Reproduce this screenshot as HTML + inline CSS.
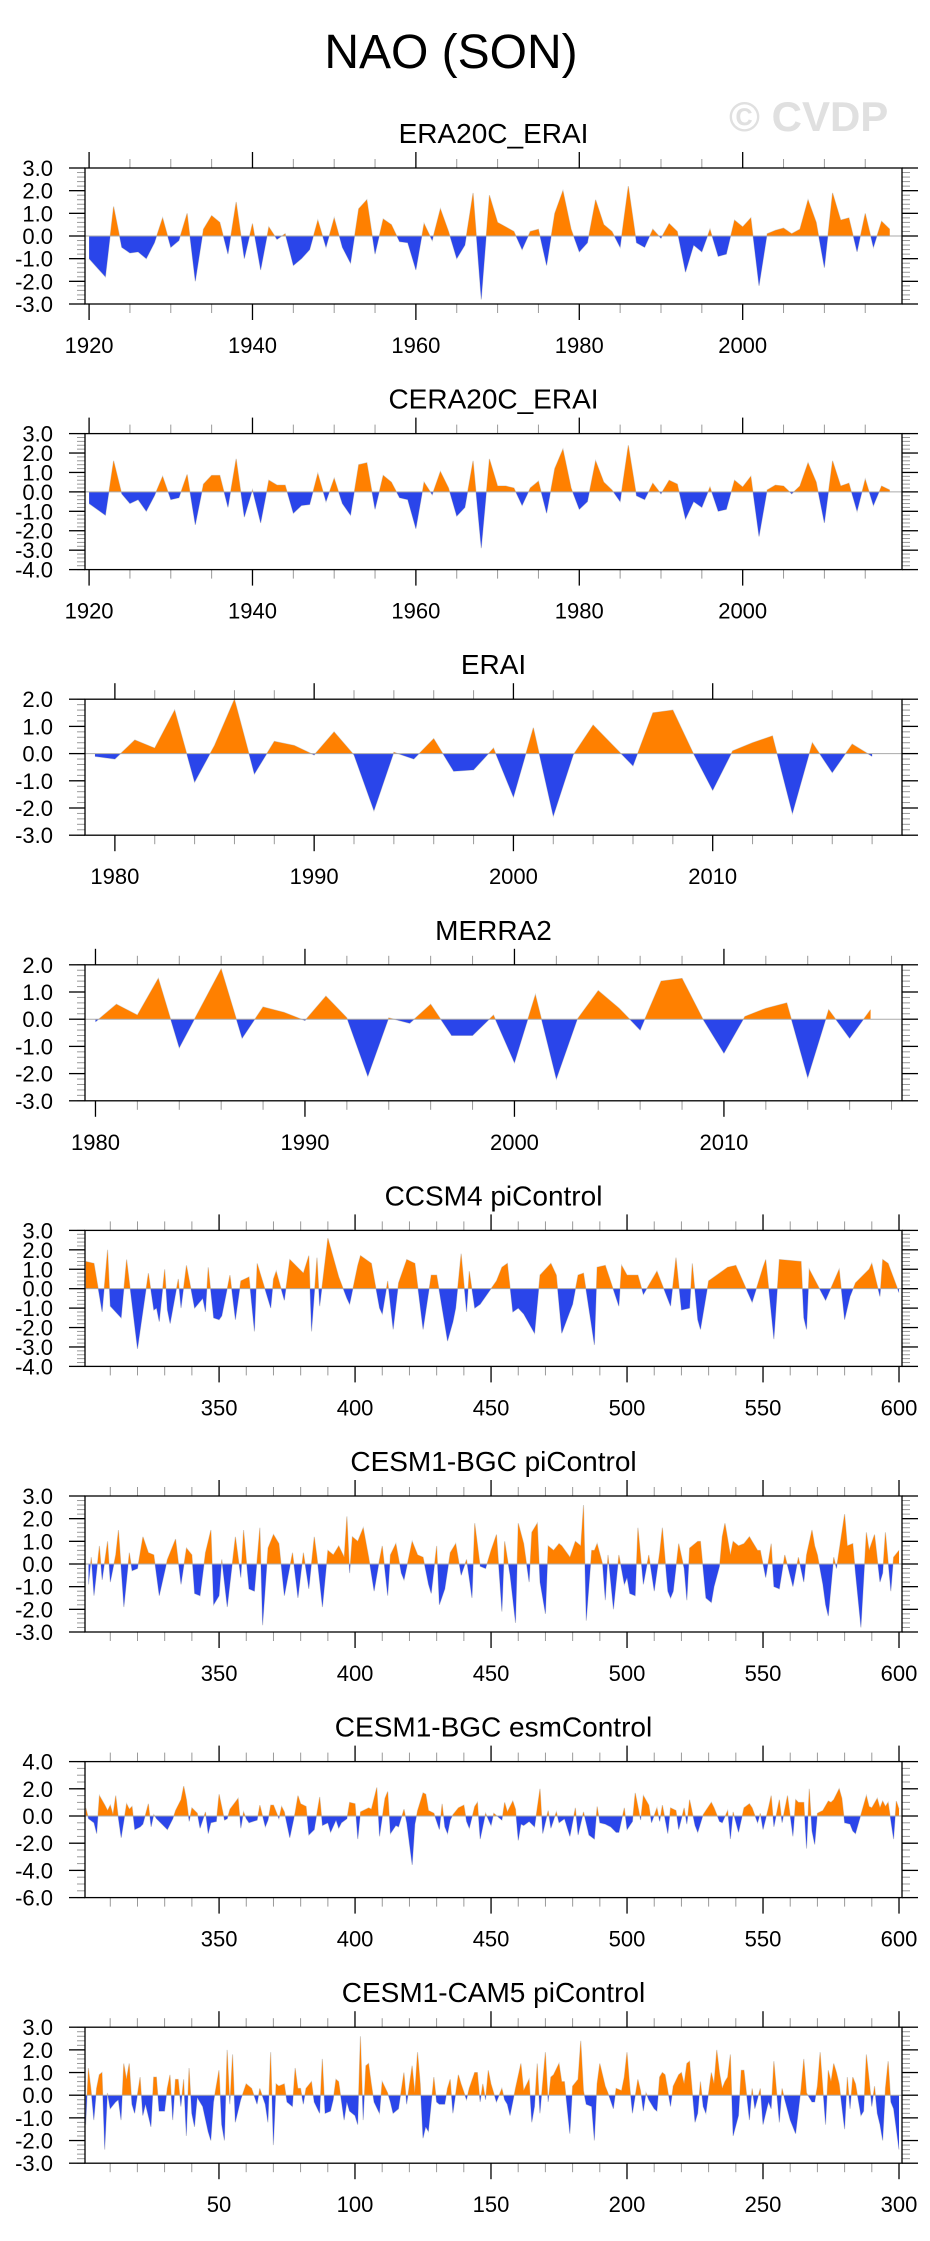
<!DOCTYPE html>
<html><head><meta charset="utf-8"><title>NAO (SON)</title>
<style>
html,body{margin:0;padding:0;background:#fff;}
svg{display:block;font-family:"Liberation Sans",Arial,sans-serif;}
</style></head>
<body>
<svg id="chart" width="930" height="2241" viewBox="0 0 930 2241" xmlns="http://www.w3.org/2000/svg">
<rect x="0" y="0" width="930" height="2241" fill="#fff"/>
<text x="451" y="68" font-size="48" text-anchor="middle" fill="#000">NAO (SON)</text>
<text x="729" y="131" font-size="42" font-weight="bold" fill="#e0e0e0">© CVDP</text>
</svg>
<script>
// ---------- data ----------
const era20cStart = 1920;
const era20cValues = [-1.0,-1.4,-1.8,1.3,-0.5,-0.75,-0.7,-1.0,-0.3,0.8,
 -0.5,-0.2,1.0,-2.0,0.3,0.9,0.6,-0.8,1.5,-1.0,
 0.55,-1.5,0.4,-0.15,0.1,-1.3,-1.0,-0.6,0.7,-0.5,
 0.8,-0.5,-1.2,1.2,1.6,-0.8,0.75,0.5,-0.25,-0.3,
 -1.5,0.55,-0.2,1.2,0.2,-1.0,-0.4,1.9,-2.8,1.8,
 0.6,0.4,0.2,-0.6,0.2,0.3,-1.3,1.0,2.0,0.3,
 -0.7,-0.3,1.6,0.5,0.2,-0.5,2.2,-0.3,-0.5,0.3,
 -0.1,0.55,0.2,-1.6,-0.4,-0.7,0.3,-0.9,-0.8,0.7,
 0.4,0.8,-2.2,0.1,0.25,0.35,0.1,0.3,1.6,0.6,
 -1.4,1.9,0.7,0.8,-0.7,1.0,-0.5,0.65,0.3];
const cera20cStart = 1920;
const cera20cValues = [-0.6,-0.9,-1.2,1.6,-0.1,-0.6,-0.4,-1.0,-0.2,0.8,
 -0.4,-0.3,0.9,-1.7,0.4,0.85,0.85,-0.8,1.7,-1.3,
 0.1,-1.6,0.6,0.35,0.35,-1.1,-0.7,-0.65,0.95,-0.5,
 0.7,-0.6,-1.2,1.4,1.5,-0.9,0.85,0.5,-0.3,-0.4,
 -1.9,0.5,-0.15,1.05,0.2,-1.25,-0.8,1.6,-2.9,1.7,
 0.3,0.3,0.2,-0.7,0.2,0.55,-1.1,1.2,2.2,0.2,
 -0.9,-0.5,1.6,0.5,0.1,-0.5,2.4,-0.2,-0.4,0.45,
 -0.1,0.6,0.4,-1.4,-0.5,-0.8,0.25,-1.0,-0.9,0.6,
 0.25,0.8,-2.3,0.1,0.35,0.3,-0.1,0.3,1.5,0.5,
 -1.6,1.6,0.3,0.45,-1.0,0.65,-0.7,0.3,0.1];
const eraiStart = 1979;
const eraiValues = [-0.1,-0.2,0.5,0.2,1.6,-1.05,0.3,2.0,-0.75,0.45,0.3,-0.05,0.8,-0.05,-2.1,0.05,-0.2,0.55,-0.65,-0.6,0.2,-1.6,0.95,-2.3,-0.05,1.05,0.3,-0.45,1.5,1.6,0.05,-1.35,0.1,0.4,0.65,-2.2,0.4,-0.7,0.35,-0.1];
const merra2Start = 1980;
const merra2Values = [-0.1,0.55,0.15,1.5,-1.05,0.4,1.85,-0.7,0.45,0.25,-0.05,0.85,0.05,-2.1,0.05,-0.15,0.55,-0.6,-0.6,0.15,-1.6,0.9,-2.2,0.0,1.05,0.4,-0.4,1.4,1.5,0.0,-1.25,0.1,0.4,0.6,-2.15,0.35,-0.7,0.35];

const ccsm4Years = [301,304,307,309,310,314,316,320,324,326,327,328,330,331,332,335,336,338,341,344,345,346,348,350,351,354,356,358,361,363,364,369,370,371,374,376,381,383,384,386,387,390,394,397,398,401,402,406,409,410,412,414,416,419,422,425,428,430,434,436,437,439,441,442,444,446,452,454,456,458,460,462,466,468,472,474,476,480,482,484,488,489,492,497,498,500,504,506,511,516,518,520,523,524,526,527,530,533,537,540,546,550,551,554,556,564,565,566,567,573,578,580,582,584,589,590,593,594,596,600];
const ccsm4Values = [1.4,1.3,-1.2,2.0,-0.9,-1.5,1.5,-3.1,0.8,-1.1,-1.0,-1.7,1.0,-1.1,-1.8,0.5,-1.0,1.2,-1.0,-0.5,-1.2,1.1,-1.5,-1.6,-1.4,0.7,-1.6,0.4,0.6,-2.2,1.3,-1.0,0.5,0.9,-0.6,1.5,0.8,1.7,-2.2,1.6,-0.9,2.6,0.6,-0.5,-0.8,1.2,1.7,1.3,-1.0,-1.3,0.4,-2.1,0.3,1.5,1.3,-2.1,0.7,0.7,-2.7,-1.7,-1.0,1.8,-1.2,0.9,-1.0,-0.8,0.4,1.1,1.3,-1.2,-1.0,-1.3,-2.3,0.7,1.3,0.7,-2.3,-0.8,0.7,0.8,-2.9,1.1,1.2,-0.9,1.2,0.7,0.7,-0.3,0.9,-0.9,1.6,-1.1,-1.0,1.3,-1.6,-2.1,0.4,0.7,1.1,1.2,-0.7,1.1,1.5,-2.6,1.5,1.4,-1.5,-2.1,1.0,-0.6,1.0,-1.6,-0.4,0.3,1.0,1.3,-0.4,1.5,1.3,-0.2];

const bgcPiYears = [302,303,304,306,307,309,310,312,313,315,317,318,320,322,324,326,328,331,334,336,338,340,341,343,345,347,348,350,351,353,356,358,359,361,363,365,366,368,370,372,374,377,379,381,383,385,386,388,390,392,394,396,397,398,399,401,403,405,407,409,410,412,413,415,417,418,421,423,425,427,428,430,431,433,435,437,439,441,443,444,446,448,450,452,454,455,457,459,460,462,464,465,467,468,470,471,473,475,476,479,481,483,484,485,487,488,489,491,492,493,495,497,499,500,501,503,504,506,508,510,512,513,515,516,517,519,521,522,523,525,526,527,529,531,532,534,535,536,538,539,541,543,545,546,548,549,551,553,554,556,558,561,563,565,566,568,569,570,572,573,574,576,577,580,581,583,584,586,588,589,591,593,594,595,597,598,600];
const bgcPiValues = [-0.9,0.3,-1.4,0.8,-0.7,1.0,-0.8,0.4,1.5,-1.9,0.5,-0.3,-0.2,1.2,0.5,0.4,-1.4,0.2,1.1,-0.9,0.7,0.4,-1.3,-1.4,0.5,1.5,-1.8,-1.4,0.2,-1.9,1.2,-0.6,1.5,-1.1,-1.2,1.6,-2.7,0.7,1.3,0.9,-1.4,0.5,-1.5,0.5,-1.1,1.2,0.3,-1.9,0.6,0.4,0.8,0.3,2.1,-0.4,1.2,1.0,1.6,0.3,-1.2,0.2,0.8,-1.4,0.4,0.9,-0.4,-0.7,1.0,0.4,0.3,-0.9,-1.3,0.8,-1.8,-1.1,0.5,0.9,-0.5,0.2,-1.5,1.8,-0.1,-0.2,0.6,1.3,-2.1,1.0,-0.5,-2.6,1.8,0.9,-0.8,1.4,1.8,-0.8,-2.2,0.8,0.6,0.9,0.8,0.3,1.0,0.8,2.6,-2.5,0.6,0.6,0.9,0.0,-1.6,0.4,-2.0,0.4,-0.9,-0.6,-1.3,-1.4,1.6,-0.9,0.4,-1.2,0.5,1.6,-1.2,-1.5,-1.2,0.9,-0.2,-1.6,0.7,0.9,1.0,1.0,-1.5,-1.7,-1.0,-0.1,1.2,1.8,0.4,1.0,0.8,0.9,1.2,1.0,0.6,0.6,-0.6,0.9,-1.0,-1.1,0.4,-1.0,0.3,-0.8,0.4,1.5,0.8,0.4,-0.9,-1.8,-2.3,0.3,-0.2,2.2,0.8,0.9,-0.4,-2.8,1.4,0.6,1.3,-0.8,-0.4,1.4,-1.2,0.3,0.6];

const bgcEsmYears = [301,302,304,305,306,308,309,310,311,312,313,314,316,317,318,319,321,322,324,325,326,327,329,331,333,334,336,337,338,339,340,342,343,345,346,347,349,350,352,353,354,357,358,359,360,361,364,365,367,368,369,370,372,373,374,376,378,379,380,382,383,385,387,388,390,391,393,394,395,397,398,400,401,402,404,405,406,408,409,411,412,413,415,416,418,419,421,422,423,425,426,427,429,431,432,433,434,435,436,438,440,441,442,444,445,446,448,450,451,454,455,456,458,459,460,461,462,464,466,468,469,471,472,474,475,477,479,481,482,484,486,488,489,490,492,494,496,497,499,500,502,503,505,506,508,509,511,512,513,515,516,518,519,521,522,523,525,526,528,529,531,532,534,535,537,538,539,541,543,545,546,548,549,550,552,553,554,556,557,559,561,562,563,565,566,567,568,569,570,572,574,575,576,578,579,580,582,583,584,586,588,589,590,592,593,594,595,596,598,599,600];
const bgcEsmValues = [0.6,-0.2,-0.5,-1.3,1.5,0.8,0.4,0.8,0.1,1.5,-0.2,-1.6,0.9,0.5,0.7,-1.0,-0.8,-0.6,0.9,-0.8,0.1,-0.2,-0.6,-1.0,-0.2,0.4,1.2,2.2,1.2,-0.4,0.6,0.2,-0.9,0.3,-1.3,-0.5,-0.4,1.6,-0.3,-0.2,0.5,1.3,-0.9,0.3,-0.2,-0.5,-0.3,0.8,-0.8,-0.3,0.8,0.8,-0.2,0.7,0.3,-1.6,0.3,1.5,0.9,0.7,-1.4,-1.0,1.4,-0.7,-0.5,-1.2,-0.3,-0.9,-0.5,-0.2,1.0,0.9,-1.7,0.3,0.5,0.6,0.5,2.1,-1.5,1.3,1.8,-1.3,-0.7,-0.8,0.5,-0.5,-3.6,-0.6,0.4,1.7,1.6,0.4,0.2,-1.0,0.9,-0.8,-1.3,-0.3,0.1,0.6,0.8,-0.4,-0.9,0.7,1.0,-1.7,0.2,-0.7,0.2,-0.3,1.0,0.3,1.1,0.5,-1.8,-0.6,-0.7,-0.4,-0.8,2.0,-1.3,0.4,-0.9,0.3,-0.5,-0.2,-1.5,0.6,-1.4,0.3,-1.4,-1.7,0.7,-0.5,-0.6,-0.8,-1.2,-1.2,0.6,-1.0,-0.4,1.7,-0.3,1.5,0.8,-0.5,0.6,-0.4,0.8,-1.3,0.6,0.4,-1.0,0.6,-0.6,1.2,-0.7,-1.2,0.1,0.4,1.0,0.6,-0.4,-0.5,0.4,-1.7,0.3,-1.2,0.6,0.9,0.6,-0.5,0.2,-1.0,0.6,1.5,-0.8,1.2,-0.5,1.5,-1.5,1.2,1.0,1.0,-2.4,2.0,-1.1,-2.1,0.2,0.4,1.1,1.0,1.2,2.0,1.3,-0.5,-0.6,-1.1,-1.3,0.1,1.5,0.7,0.6,1.3,0.6,1.1,0.7,1.0,-1.7,1.1,0.5];

const cam5Years = [1,2,3,4,5,6,7,8,9,10,12,13,14,15,16,17,18,19,21,22,23,25,26,27,28,30,31,32,33,34,35,36,37,38,39,40,41,42,44,46,47,48,50,51,52,53,54,55,56,57,58,60,61,62,64,65,67,68,69,70,71,72,74,75,77,78,79,80,81,82,84,85,87,88,89,91,92,93,94,96,97,98,100,101,102,103,104,105,106,107,109,110,112,113,114,116,118,119,121,122,123,124,125,126,127,129,130,131,133,134,135,136,138,139,141,142,144,145,146,147,148,149,150,152,154,155,156,157,159,161,162,164,165,166,167,168,170,171,172,173,175,176,177,179,180,182,183,184,185,187,188,189,190,192,193,195,196,198,199,200,201,202,204,205,206,207,208,210,211,212,213,214,216,217,219,220,221,222,223,225,226,227,228,229,231,232,233,234,235,236,237,238,239,241,242,243,245,246,247,249,250,252,253,254,256,257,258,260,261,262,264,265,266,268,269,270,271,273,274,275,276,277,278,280,281,282,283,284,286,287,288,289,290,291,292,293,294,295,296,297,298,300];
const cam5Values = [-1.3,1.2,0.2,-1.1,0.3,0.9,1.0,-2.4,0.1,-0.6,-0.3,-0.2,-1.1,1.4,0.7,1.4,-0.4,-0.8,0.8,-0.9,-0.4,-1.4,0.8,0.8,-0.7,-0.7,0.3,0.9,-1.1,0.7,0.7,-0.5,0.7,-1.8,1.2,-0.8,-1.4,-0.1,-0.5,-1.6,-2.0,-0.3,1.1,-1.3,-2.0,2.0,-0.4,1.8,-1.2,-0.7,-0.2,0.5,0.4,0.3,-0.4,0.3,-0.4,-1.2,1.9,-2.2,0.5,0.4,0.5,-0.3,-0.5,1.2,0.3,0.3,-0.4,0.3,0.6,-0.3,-0.8,1.6,-0.8,-0.7,-0.2,0.7,0.6,-1.1,-0.3,-0.7,-0.9,-1.3,2.6,-1.1,1.3,1.4,0.5,-0.3,-0.8,0.6,0.1,-0.3,-0.8,-0.6,1.0,-0.4,1.3,0.1,1.9,0.5,-1.9,-1.4,-1.6,0.8,-0.3,-0.4,-0.4,0.3,0.7,-0.8,0.9,0.5,-0.2,0.3,1.0,1.0,-0.3,0.5,-0.2,1.1,0.5,-0.3,0.3,-0.2,-0.4,-0.9,0.3,1.4,0.2,0.7,-1.2,-0.5,1.4,-0.8,1.9,-0.3,0.8,0.9,1.4,0.6,0.6,-1.7,0.4,0.7,2.4,0.2,-0.4,-0.5,-2.0,0.5,1.4,0.4,0.1,-0.6,0.3,0.2,0.8,1.9,0.4,-0.8,0.7,0.2,-0.7,0.1,-0.2,-0.6,-0.7,0.8,1.0,0.9,-0.5,0.4,0.9,1.0,0.5,1.4,1.5,-1.2,-0.8,0.6,-0.5,-0.8,1.0,0.5,2.0,1.0,0.3,0.6,0.8,1.8,-1.8,-0.9,1.1,1.1,-1.1,0.3,-0.6,0.3,-1.3,-0.3,-0.6,1.5,-1.2,0.3,-0.2,-1.1,-1.4,-1.7,0.3,1.6,0.1,-0.3,-0.3,0.4,1.9,-1.3,1.1,0.6,1.4,1.0,0.5,-1.5,0.8,-0.6,0.8,0.5,-0.9,-0.7,1.8,0.7,-0.5,0.4,-0.8,-1.3,-2.0,0.3,1.5,-0.3,-0.6,-2.4];

const panelTitles = ["ERA20C_ERAI","CERA20C_ERAI","ERAI","MERRA2","CCSM4 piControl","CESM1-BGC piControl","CESM1-BGC esmControl","CESM1-CAM5 piControl"];
const yMins = [-3,-4,-3,-3,-4,-3,-6,-3];
const yMaxs = [3,3,2,2,3,3,4,3];
const yMajorSteps = [1,1,1,1,1,1,2,1];
const yMinorSteps = [0.2,0.2,0.2,0.2,0.2,0.2,0.5,0.2];
const xMins = [1919.5,1919.5,1978.5,1979.5,300.7,300.7,300.7,0.75];
const xMaxs = [2019.5,2019.5,2019.5,2018.5,601.1,601.1,601.1,301.1];
const xMajorTicks = [[1920,1940,1960,1980,2000],[1920,1940,1960,1980,2000],[1980,1990,2000,2010],[1980,1990,2000,2010],
 [350,400,450,500,550,600],[350,400,450,500,550,600],[350,400,450,500,550,600],[50,100,150,200,250,300]];
const xMinorStarts = [1920,1920,1980,1980,310,310,310,10];
const xMinorEnds = [2015,2015,2018,2018,600,600,600,300];
const xMinorSteps = [5,5,2,2,10,10,10,10];

function seq(start, n){ const a=[]; for(let i=0;i<n;i++) a.push(start+i); return a; }
const panelYears = [seq(era20cStart,era20cValues.length), seq(cera20cStart,cera20cValues.length), seq(eraiStart,eraiValues.length), seq(merra2Start,merra2Values.length), ccsm4Years, bgcPiYears, bgcEsmYears, cam5Years];
const panelValues = [era20cValues, cera20cValues, eraiValues, merra2Values, ccsm4Values, bgcPiValues, bgcEsmValues, cam5Values];

// ---------- drawing ----------
const NS = "http://www.w3.org/2000/svg";
const svg = document.getElementById("chart");
const BOX_L = 85, BOX_R = 902, BOX_H = 136, TOP0 = 168, GAP = 265.6;
const ORANGE = "#ff8000", BLUE = "#2a45ea";

function mk(tag, attrs, parent){
  const e = document.createElementNS(NS, tag);
  for (const k in attrs) e.setAttribute(k, attrs[k]);
  (parent || svg).appendChild(e);
  return e;
}
function slug(s){ return s.toLowerCase().replace(/[^a-z0-9]+/g,'-').replace(/^-|-$/g,''); }

for (let p = 0; p < panelTitles.length; p++) {
  const top = TOP0 + p * GAP, bot = top + BOX_H;
  const x0 = xMins[p], x1 = xMaxs[p], y0 = yMins[p], y1 = yMaxs[p];
  const sx = v => BOX_L + (v - x0) / (x1 - x0) * (BOX_R - BOX_L);
  const sy = v => bot - (v - y0) / (y1 - y0) * BOX_H;
  const key = slug(panelTitles[p]);

  const g = mk("g", {});
  
  

  const t = mk("text", {x: (BOX_L + BOX_R) / 2, y: top - 25, "font-size": 28, "text-anchor": "middle", fill: "#000"}, g);
  t.textContent = panelTitles[p];
  
  

  // clip paths
  const defs = mk("defs", {}, g);
  const cpA = mk("clipPath", {id: "ca" + p}, defs);
  mk("rect", {x: BOX_L, y: top, width: BOX_R - BOX_L, height: sy(0) - top}, cpA);
  const cpB = mk("clipPath", {id: "cb" + p}, defs);
  mk("rect", {x: BOX_L, y: sy(0), width: BOX_R - BOX_L, height: bot - sy(0)}, cpB);

  const yrs = panelYears[p], vals = panelValues[p];
  let d = "M" + sx(yrs[0]).toFixed(2) + "," + sy(0).toFixed(2);
  let ln = "";
  for (let i = 0; i < yrs.length; i++) {
    const px = sx(yrs[i]).toFixed(2), py = sy(vals[i]).toFixed(2);
    d += " L" + px + "," + py;
    ln += (i ? " L" : "M") + px + "," + py;
  }
  d += " L" + sx(yrs[yrs.length - 1]).toFixed(2) + "," + sy(0).toFixed(2) + " Z";

  const line = mk("path", {d: ln, fill: "none", stroke: "#cfcfcf", "stroke-width": 1}, g);
  
  
  const pos = mk("path", {d: d, fill: ORANGE, "clip-path": "url(#ca" + p + ")"}, g);
  
  
  const neg = mk("path", {d: d, fill: BLUE, "clip-path": "url(#cb" + p + ")"}, g);
  
  

  const zl = mk("line", {x1: BOX_L, x2: BOX_R, y1: sy(0), y2: sy(0), stroke: "#aaaaaa", "stroke-width": 1}, g);
  
  

  // y minor ticks
  const nMinor = Math.round((y1 - y0) / yMinorSteps[p]);
  for (let i = 0; i <= nMinor; i++) {
    const v = y0 + i * yMinorSteps[p];
    const y = sy(v);
    const a = mk("line", {x1: BOX_L - 8, x2: BOX_L, y1: y, y2: y, stroke: "#999", "stroke-width": 1}, g);
    
    
    const b = mk("line", {x1: BOX_R, x2: BOX_R + 8, y1: y, y2: y, stroke: "#999", "stroke-width": 1}, g);
    
    
  }
  // y major ticks + labels
  const nMajor = Math.round((y1 - y0) / yMajorSteps[p]);
  for (let i = 0; i <= nMajor; i++) {
    const v = y0 + i * yMajorSteps[p];
    const y = sy(v);
    const a = mk("line", {x1: BOX_L - 16, x2: BOX_L, y1: y, y2: y, stroke: "#000", "stroke-width": 1.3}, g);
    
    
    const b = mk("line", {x1: BOX_R, x2: BOX_R + 16, y1: y, y2: y, stroke: "#000", "stroke-width": 1.3}, g);
    
    
    const lb = mk("text", {x: 53, y: y + 8, "font-size": 22, "text-anchor": "end", fill: "#000"}, g);
    lb.textContent = v.toFixed(1);
    
    
  }
  // x minor ticks
  for (let v = xMinorStarts[p]; v <= xMinorEnds[p]; v += xMinorSteps[p]) {
    if (xMajorTicks[p].indexOf(v) >= 0) continue;
    const x = sx(v);
    const a = mk("line", {x1: x, x2: x, y1: top - 9, y2: top, stroke: "#999", "stroke-width": 1}, g);
    
    
    const b = mk("line", {x1: x, x2: x, y1: bot, y2: bot + 9, stroke: "#999", "stroke-width": 1}, g);
    
    
  }
  // x major ticks + labels
  for (const v of xMajorTicks[p]) {
    const x = sx(v);
    const a = mk("line", {x1: x, x2: x, y1: top - 16, y2: top, stroke: "#000", "stroke-width": 1.3}, g);
    
    
    const b = mk("line", {x1: x, x2: x, y1: bot, y2: bot + 16, stroke: "#000", "stroke-width": 1.3}, g);
    
    
    const lb = mk("text", {x: x, y: bot + 49, "font-size": 22, "text-anchor": "middle", fill: "#000"}, g);
    lb.textContent = String(v);
    
    
  }
  // frame
  const fr = mk("rect", {x: BOX_L, y: top, width: BOX_R - BOX_L, height: BOX_H, fill: "none", stroke: "#000", "stroke-width": 1.3}, g);
  
  
}
</script>
</body></html>
